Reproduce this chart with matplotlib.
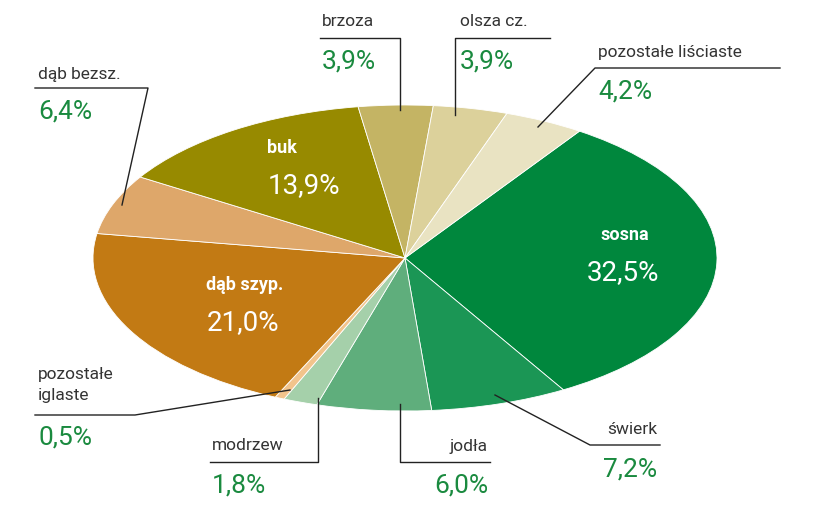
import matplotlib
matplotlib.use("Agg")
import matplotlib.pyplot as plt

names = ["sosna", "świerk", "jodła", "modrzew", "pozostałe\niglaste", "dąb szyp.",
         "dąb bezsz.", "buk", "brzoza", "olsza cz.", "pozostałe liściaste"]
values = [32.5, 7.2, 6.0, 1.8, 0.5, 21.0, 6.4, 13.9, 3.9, 3.9, 4.2]
pct_labels = ["32,5%", "7,2%", "6,0%", "1,8%", "0,5%", "21,0%", "6,4%", "13,9%", "3,9%", "3,9%", "4,2%"]
colors = ["#00873d", "#1b9655", "#5fae7c", "#a5d0aa", "#f2c48c", "#c27a14",
          "#dea76a", "#978a00", "#c4b464", "#dcd19b", "#e9e3c2"]

W, H = 815, 526
fig = plt.figure(figsize=(W/100, H/100), dpi=100)
cx, cy, rx, ry = 405, 258, 312, 153
ax = fig.add_axes([(cx-rx)/W, (H-(cy+ry))/H, 2*rx/W, 2*ry/H])
ax.pie(values, colors=colors, startangle=56, counterclock=False,
       wedgeprops=dict(edgecolor="white", linewidth=0.6))
ax.set_aspect("auto")
ax.set_xlim(-1, 1); ax.set_ylim(-1, 1)
ax.axis("off")

ov = fig.add_axes([0, 0, 1, 1], zorder=5)
ov.set_xlim(0, W); ov.set_ylim(H, 0); ov.axis("off")
ov.patch.set_alpha(0)

FONT = "Roboto"
gray = "#333333"; green = "#1a8a3f"

def lead(pts):
    xs, ys = zip(*pts)
    ov.plot(xs, ys, color="#222222", lw=1)

def outer(i, x, y, ha="left", name_dy=0):
    ov.text(x, y, names[i], ha=ha, va="center", fontsize=12.5, color=gray, family=FONT)
    ov.text(x, y + 40 + name_dy, pct_labels[i], ha=ha, va="center", fontsize=19, color=green, family=FONT)

lead([(400, 110), (400, 38), (320, 38)]); outer(8, 322, 22)
lead([(455, 115), (455, 38), (550, 38)]); outer(9, 460, 22)
lead([(538, 127), (595, 68), (780, 68)]); outer(10, 598, 52)
lead([(122, 205), (148, 88), (35, 88)]); outer(6, 38, 75, name_dy=-3)
lead([(290, 390), (135, 415), (35, 415)])
ov.text(38, 385, names[4], ha="left", va="center", fontsize=12.5, color=gray, family=FONT, linespacing=1.5)
ov.text(38, 438, pct_labels[4], ha="left", va="center", fontsize=19, color=green, family=FONT)
lead([(318, 398), (318, 462), (210, 462)]); outer(3, 212, 446)
lead([(400, 404), (400, 462), (490, 462)]); outer(2, 488, 446, ha="right")
lead([(495, 395), (590, 445), (660, 445)]); outer(1, 657, 430, ha="right")

for i, (x, y) in {0: (625, 235), 7: (282, 148), 5: (245, 285)}.items():
    ov.text(x, y, names[i], ha="center", va="center", fontsize=13, color="white",
            weight="bold", family=FONT)
    ov.text(x - 2 if i != 7 else x + 22, y + 38, pct_labels[i], ha="center", va="center",
            fontsize=20, color="white", family=FONT)

fig.savefig("out.png", dpi=100)
